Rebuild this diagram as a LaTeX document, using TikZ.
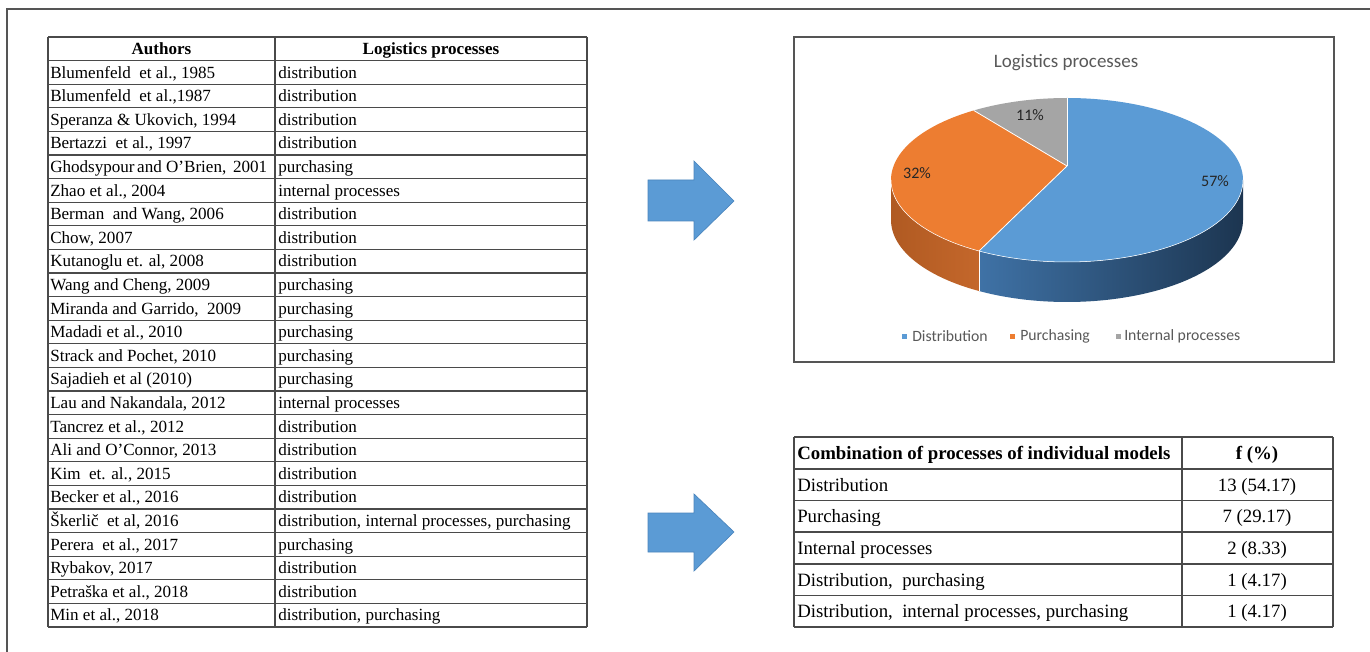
\documentclass[tikz,border=0pt]{standalone}
\usepackage{fontspec}
\setmainfont{Liberation Serif}
\newfontfamily\chartfont{Carlito}
\definecolor{frm}{HTML}{555555}
\definecolor{tl}{HTML}{4A4A4A}
\definecolor{pblue}{HTML}{5B9BD5}
\definecolor{porange}{HTML}{ED7D31}
\definecolor{pgray}{HTML}{A5A5A5}
\definecolor{sblueL}{HTML}{3F72A6}
\definecolor{sblueR}{HTML}{1C3550}
\definecolor{sorL}{HTML}{B05A22}
\definecolor{sorR}{HTML}{C4672B}
\definecolor{ctext}{HTML}{595959}
\definecolor{lbltext}{HTML}{262626}
\definecolor{arrowfill}{HTML}{5B9BD5}
\definecolor{arrowline}{HTML}{4A85BD}
\newcommand\lrow[3]{%
  \node[lcell] (a#1) at (50,{37+(#1+0.5)*23.6}) {#2};
  \node[lcell] (p#1) at (278,{37+(#1+0.5)*23.6}) {#3};}
\newcommand\brow[4]{%
  \node[bcell] (c#1) at (797,{#2}) {#3};
  \node[bcell,anchor=center] (f#1) at (1257,{#2}) {#4};}
\begin{document}
\begin{tikzpicture}[x=0.75pt,y=-0.75pt,
  lcell/.style={anchor=west,inner sep=0pt,text height=0.7em,text depth=0.2em,yshift=-1.8pt,
    font=\fontsize{12.8}{15}\selectfont},
  lhead/.style={lcell,anchor=center,font=\fontsize{12.8}{15}\selectfont\bfseries},
  bcell/.style={anchor=west,inner sep=0pt,text height=0.7em,text depth=0.2em,yshift=-2.2pt,
    font=\fontsize{14.1}{16}\selectfont},
  bhead/.style={bcell,font=\fontsize{14.1}{16}\selectfont\bfseries},
  tline/.style={draw=tl,line width=0.9pt},
  blockarrow/.style={fill=arrowfill,draw=arrowline,line width=0.5pt},
  lbl/.style={inner sep=0pt,text=lbltext,font=\chartfont\fontsize{12}{14}\selectfont},
  leg/.style={anchor=west,inner sep=0pt,text=ctext,font=\chartfont\fontsize{11.8}{13}\selectfont},
  edge/.style={draw=white,line width=0.6pt}]
\useasboundingbox (0,0) rectangle (1370,652);
\fill[white] (0,0) rectangle (1370,652);
% outer frame
\draw[frm,line width=1.1pt] (7,652) -- (7,9) -- (1370,9);

% ---------- left table ----------
\foreach \i in {0,...,25}{\draw[tline] (48,{37+\i*23.6}) -- (587,{37+\i*23.6});}
\draw[tline] (48,37) -- (48,627);
\draw[tline] (275,37) -- (275,627);
\draw[tline] (587,37) -- (587,627);
\node[lhead] (ha) at (161.5,48.8) {Authors};
\node[lhead] (hp) at (431,48.8) {Logistics processes};
\lrow{1}{Blumenfeld\ \ et al., 1985}{distribution}
\lrow{2}{Blumenfeld\ \ et al.,1987}{distribution}
\lrow{3}{Speranza \& Ukovich, 1994}{distribution}
\lrow{4}{Bertazzi\ \ et al., 1997}{distribution}
\lrow{5}{Ghodsypour\hspace{0.15em}and O’Brien,\hspace{0.4em}2001}{purchasing}
\lrow{6}{Zhao et al., 2004}{internal processes}
\lrow{7}{Berman\ \ and Wang, 2006}{distribution}
\lrow{8}{Chow, 2007}{distribution}
\lrow{9}{Kutanoglu et. al, 2008}{distribution}
\lrow{10}{Wang and Cheng, 2009}{purchasing}
\lrow{11}{Miranda and Garrido,\ \ 2009}{purchasing}
\lrow{12}{Madadi et al., 2010}{purchasing}
\lrow{13}{Strack and Pochet, 2010}{purchasing}
\lrow{14}{Sajadieh et al (2010)}{purchasing}
\lrow{15}{Lau and Nakandala, 2012}{internal processes}
\lrow{16}{Tancrez et al., 2012}{distribution}
\lrow{17}{Ali and O’Connor, 2013}{distribution}
\lrow{18}{Kim\ \ et. al., 2015}{distribution}
\lrow{19}{Becker et al., 2016}{distribution}
\lrow{20}{Škerlič\ \ et al, 2016}{distribution, internal processes, purchasing}
\lrow{21}{Perera\ \ et al., 2017}{purchasing}
\lrow{22}{Rybakov, 2017}{distribution}
\lrow{23}{Petraška et al., 2018}{distribution}
\lrow{24}{Min et al., 2018}{distribution, purchasing}

% ---------- arrows ----------
\filldraw[blockarrow] (648,180) -- (694,180) -- (694,161) -- (734,201) -- (694,240) -- (694,221) -- (648,221) -- cycle;
\filldraw[blockarrow] (648,513) -- (694,513) -- (694,494) -- (734,532) -- (694,571) -- (694,552) -- (648,552) -- cycle;

% ---------- chart ----------
\draw[frm,line width=1.1pt] (794,37) rectangle (1334,362);
\node[inner sep=0pt,text=ctext,font=\chartfont\fontsize{14.25}{16}\selectfont] (title) at (1066,63) {Logistics processes};
\coordinate (V) at (1067,166);
% sides
\shade[left color=sorL,right color=sorR] plot[domain=180:240,samples=40,variable=\t] ({1067+176*cos(\t)},{180-82*sin(\t)})
  -- plot[domain=240:180,samples=40,variable=\t] ({1067+176*cos(\t)},{220-82*sin(\t)}) -- cycle;
\shade[left color=sblueL,right color=sblueR] plot[domain=240:360,samples=60,variable=\t] ({1067+176*cos(\t)},{180-82*sin(\t)})
  -- plot[domain=360:240,samples=60,variable=\t] ({1067+176*cos(\t)},{220-82*sin(\t)}) -- cycle;
% top face
\fill[pblue] (V) -- plot[domain=90:-120,samples=100,variable=\t] ({1067+176*cos(\t)},{180-82*sin(\t)}) -- cycle;
\fill[pgray] (V) -- plot[domain=90:122,samples=20,variable=\t] ({1067+176*cos(\t)},{180-82*sin(\t)}) -- cycle;
\fill[porange] (V) -- plot[domain=122:240,samples=60,variable=\t] ({1067+176*cos(\t)},{180-82*sin(\t)}) -- cycle;
\coordinate (e90) at ({1067+176*cos(90)},{180-82*sin(90)});
\coordinate (e122) at ({1067+176*cos(122)},{180-82*sin(122)});
\coordinate (e240) at ({1067+176*cos(240)},{180-82*sin(240)});
\coordinate (b240) at ({1067+176*cos(240)},{220-82*sin(240)});
\draw[edge] (V) -- (e90);
\draw[edge] (V) -- (e122);
\draw[edge] (V) -- (e240);
\draw[edge] (e240) -- (b240);
\draw[edge,line width=0.4pt] plot[domain=180:360,samples=80,variable=\t] ({1067+176*cos(\t)},{180-82*sin(\t)});
\node[lbl] (l57) at (1215,181) {57\%};
\node[lbl] (l32) at (917,173) {32\%};
\node[lbl] (l11) at (1030,115) {11\%};
% legend
\fill[pblue] (902,334) rectangle (907,339);
\node[leg] (lg1) at (912,336.5) {Distribution};
\fill[porange] (1010,334) rectangle (1015,339);
\node[leg] (lg2) at (1020,336.5) {Purchasing};
\fill[pgray] (1116,334) rectangle (1121,339);
\node[leg] (lg3) at (1124,336.5) {Internal processes};

% ---------- bottom table ----------
\foreach \y in {437,469,500.5,532,564,595.5,627}{\draw[tline] (794,\y) -- (1333,\y);}
\draw[tline] (794,437) -- (794,627);
\draw[tline] (1182,437) -- (1182,627);
\draw[tline] (1333,437) -- (1333,627);
\node[bhead] (hc) at (797,453) {Combination of processes of individual models};
\node[bhead,anchor=center] (hf) at (1257,453) {f (\%)};
\brow{1}{485}{Distribution}{13 (54.17)}
\brow{2}{516.5}{Purchasing}{7 (29.17)}
\brow{3}{548}{Internal processes}{2 (8.33)}
\brow{4}{580}{Distribution,\ \ purchasing}{1 (4.17)}
\brow{5}{611.5}{Distribution,\ \ internal processes, purchasing}{1 (4.17)}
\end{tikzpicture}
\end{document}
